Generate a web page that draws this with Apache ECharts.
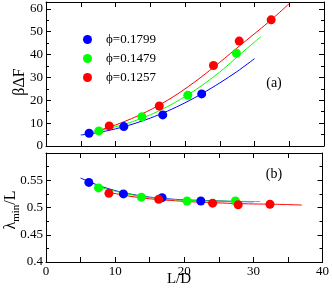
<!DOCTYPE html>
<html><head><meta charset="utf-8">
<script src="https://cdn.jsdelivr.net/npm/echarts@6/dist/echarts.min.js"></script>
<style>html,body{margin:0;padding:0;background:#fff}#c{width:332px;height:289px}</style>
</head><body><div id="c"></div>
<script>
// ---- data ----
const seriesNames = ['ϕ=0.1799', 'ϕ=0.1479', 'ϕ=0.1257'];
const xTicks = [0, 10, 20, 30, 40];

// points: L/D, beta*DeltaF (panel a), lambda_min/L (panel b)
const blueX = [6.2, 11.2, 16.8, 22.4];
const blueA = [5.6, 8.5, 13.6, 22.8];
const blueB = [0.546, 0.525, 0.518, 0.512];
const greenX = [7.6, 13.8, 20.4, 27.4];
const greenA = [6.6, 12.8, 22.2, 40.6];
const greenB = [0.536, 0.519, 0.512, 0.512];
const redX = [9.1, 16.3, 24.1, 27.8, 32.4];
const redA = [8.8, 17.5, 35.2, 45.9, 55.2];
const redB = [0.526, 0.515, 0.508, 0.505, 0.506];

// fit curves
const blueFitAX = [5, 7.5, 10, 12.5, 15, 17.5, 20, 22.5, 25, 27.5, 30];
const blueFitAY = [4.8, 5.9, 7.5, 9.6, 12.2, 15.3, 18.9, 23.0, 27.6, 32.6, 38.2];
const greenFitAX = [6.8, 8, 10, 12, 14, 16, 18, 20, 22, 24, 26, 28, 30, 30.9];
const greenFitAY = [6.4, 7.0, 8.4, 10.2, 12.4, 15.0, 18.1, 21.6, 25.6, 30.0, 34.9, 40.3, 45.5, 47.8];
const redFitAX = [7.2, 10, 13, 16, 19, 22, 25, 28, 31, 33, 35];
const redFitAY = [6.4, 9.2, 12.9, 17.4, 22.9, 29.4, 36.6, 44.2, 51.6, 56.8, 62.3];

const blueFitBX = [5, 7.5, 10, 12.5, 15, 17.5, 20, 22.5, 25, 27.5, 30];
const blueFitBY = [0.554, 0.541, 0.531, 0.524, 0.519, 0.516, 0.514, 0.513, 0.512, 0.511, 0.5105];
const greenFitBX = [7, 10, 13, 16, 19, 22, 25, 28, 31];
const greenFitBY = [0.540, 0.530, 0.522, 0.517, 0.514, 0.5125, 0.5118, 0.5112, 0.511];
const redFitBX = [9, 12, 15, 18, 21, 24, 27, 30, 33, 37];
const redFitBY = [0.528, 0.521, 0.516, 0.513, 0.5105, 0.509, 0.5075, 0.5065, 0.506, 0.5045];

const colors = ['#0000ff', '#00ff00', '#ff0000'];

// ---- helpers ----
const zip = (xs, ys) => xs.map((x, i) => [x, ys[i]]);
const FONT = 'Liberation Serif';
const lbl = { color: '#000', fontFamily: FONT, fontSize: 13 };

function xAx(gi, pos, showLabel) {
  return {
    type: 'value', gridIndex: gi, position: pos,
    min: xTicks[0], max: xTicks[xTicks.length - 1], interval: 10,
    axisLine: { show: true, onZero: false, lineStyle: { color: '#000', width: 1 } },
    axisTick: { show: true, inside: true, length: 5, lineStyle: { color: '#000' } },
    minorTick: { show: true, splitNumber: 2, length: 5, lineStyle: { color: '#000' } },
    splitLine: { show: false },
    axisLabel: Object.assign({ show: showLabel, margin: 3 }, lbl)
  };
}
function yAx(gi, pos, showLabel, min, max, interval) {
  return {
    type: 'value', gridIndex: gi, position: pos, min: min, max: max, interval: interval,
    axisLine: { show: true, onZero: false, lineStyle: { color: '#000', width: 1 } },
    axisTick: { show: true, inside: true, length: 5, lineStyle: { color: '#000' } },
    minorTick: { show: true, splitNumber: 2, length: 3, lineStyle: { color: '#000' } },
    splitLine: { show: false },
    axisLabel: Object.assign({ show: showLabel, margin: 3, showMaxLabel: false }, lbl)
  };
}
function pts(name, xs, ys, ci, axi) {
  return { name: name, type: 'scatter', xAxisIndex: axi, yAxisIndex: axi, data: zip(xs, ys),
    symbol: 'circle', symbolSize: 9, itemStyle: { color: colors[ci], opacity: 1 }, z: 4, silent: true };
}
function fit(xs, ys, ci, axi) {
  return { name: 'fit' + ci + '_' + axi, type: 'line', xAxisIndex: axi, yAxisIndex: axi, data: zip(xs, ys),
    smooth: 0.3, showSymbol: false, symbol: 'none', lineStyle: { color: colors[ci], width: 1 }, z: 3, silent: true };
}

const chart = echarts.init(document.getElementById('c'), null, { renderer: 'canvas' });
chart.setOption({
  animation: false,
  backgroundColor: '#fff',
  grid: [
    { left: 46, top: 2, right: 8, height: 144 },
    { left: 46, top: 153, right: 8, height: 109 }
  ],
  xAxis: [xAx(0, 'bottom', false), xAx(1, 'bottom', true), xAx(0, 'top', false), xAx(1, 'top', false)],
  yAxis: [yAx(0, 'left', true, 0, 63, 10), yAx(1, 'left', true, 0.4, 0.6, 0.05),
          yAx(0, 'right', false, 0, 63, 10), yAx(1, 'right', false, 0.4, 0.6, 0.05)],
  legend: {
    data: seriesNames, orient: 'vertical', left: 78, top: 28, itemGap: 6,
    icon: 'circle', itemWidth: 9, itemHeight: 9, selectedMode: false,
    textStyle: { color: '#000', fontFamily: FONT, fontSize: 13, padding: [0, 0, 0, 9] }
  },
  series: [
    fit(blueFitAX, blueFitAY, 0, 0), fit(greenFitAX, greenFitAY, 1, 0), fit(redFitAX, redFitAY, 2, 0),
    fit(blueFitBX, blueFitBY, 0, 1), fit(redFitBX, redFitBY, 2, 1), fit(greenFitBX, greenFitBY, 1, 1),
    pts(seriesNames[0], blueX, blueA, 0, 0), pts(seriesNames[1], greenX, greenA, 1, 0), pts(seriesNames[2], redX, redA, 2, 0),
    pts(seriesNames[0], blueX, blueB, 0, 1), pts(seriesNames[1], greenX, greenB, 1, 1), pts(seriesNames[2], redX, redB, 2, 1)
  ],
  graphic: [
    { type: 'text', x: 20, y: 82, rotation: Math.PI / 2,
      style: { text: 'βΔF', fill: '#000', font: '16px "Liberation Serif"', align: 'center', verticalAlign: 'middle' } },
    { type: 'text', x: 11, y: 210, rotation: Math.PI / 2,
      style: { text: '{a|λ}{s|min}{a|/L}', align: 'center', verticalAlign: 'middle',
        rich: { a: { fill: '#000', fontFamily: FONT, fontSize: 16, lineHeight: 22, verticalAlign: 'middle' },
                s: { fill: '#000', fontFamily: FONT, fontSize: 11, lineHeight: 22, verticalAlign: 'bottom' } } } },
    { type: 'text', x: 179, y: 279,
      style: { text: 'L/D', fill: '#000', font: '15px "Liberation Serif"', align: 'center', verticalAlign: 'middle' } },
    { type: 'text', x: 274, y: 83,
      style: { text: '(a)', fill: '#000', font: '14px "Liberation Serif"', align: 'center', verticalAlign: 'middle' } },
    { type: 'text', x: 274, y: 174,
      style: { text: '(b)', fill: '#000', font: '14px "Liberation Serif"', align: 'center', verticalAlign: 'middle' } }
  ]
});
</script></body></html>
